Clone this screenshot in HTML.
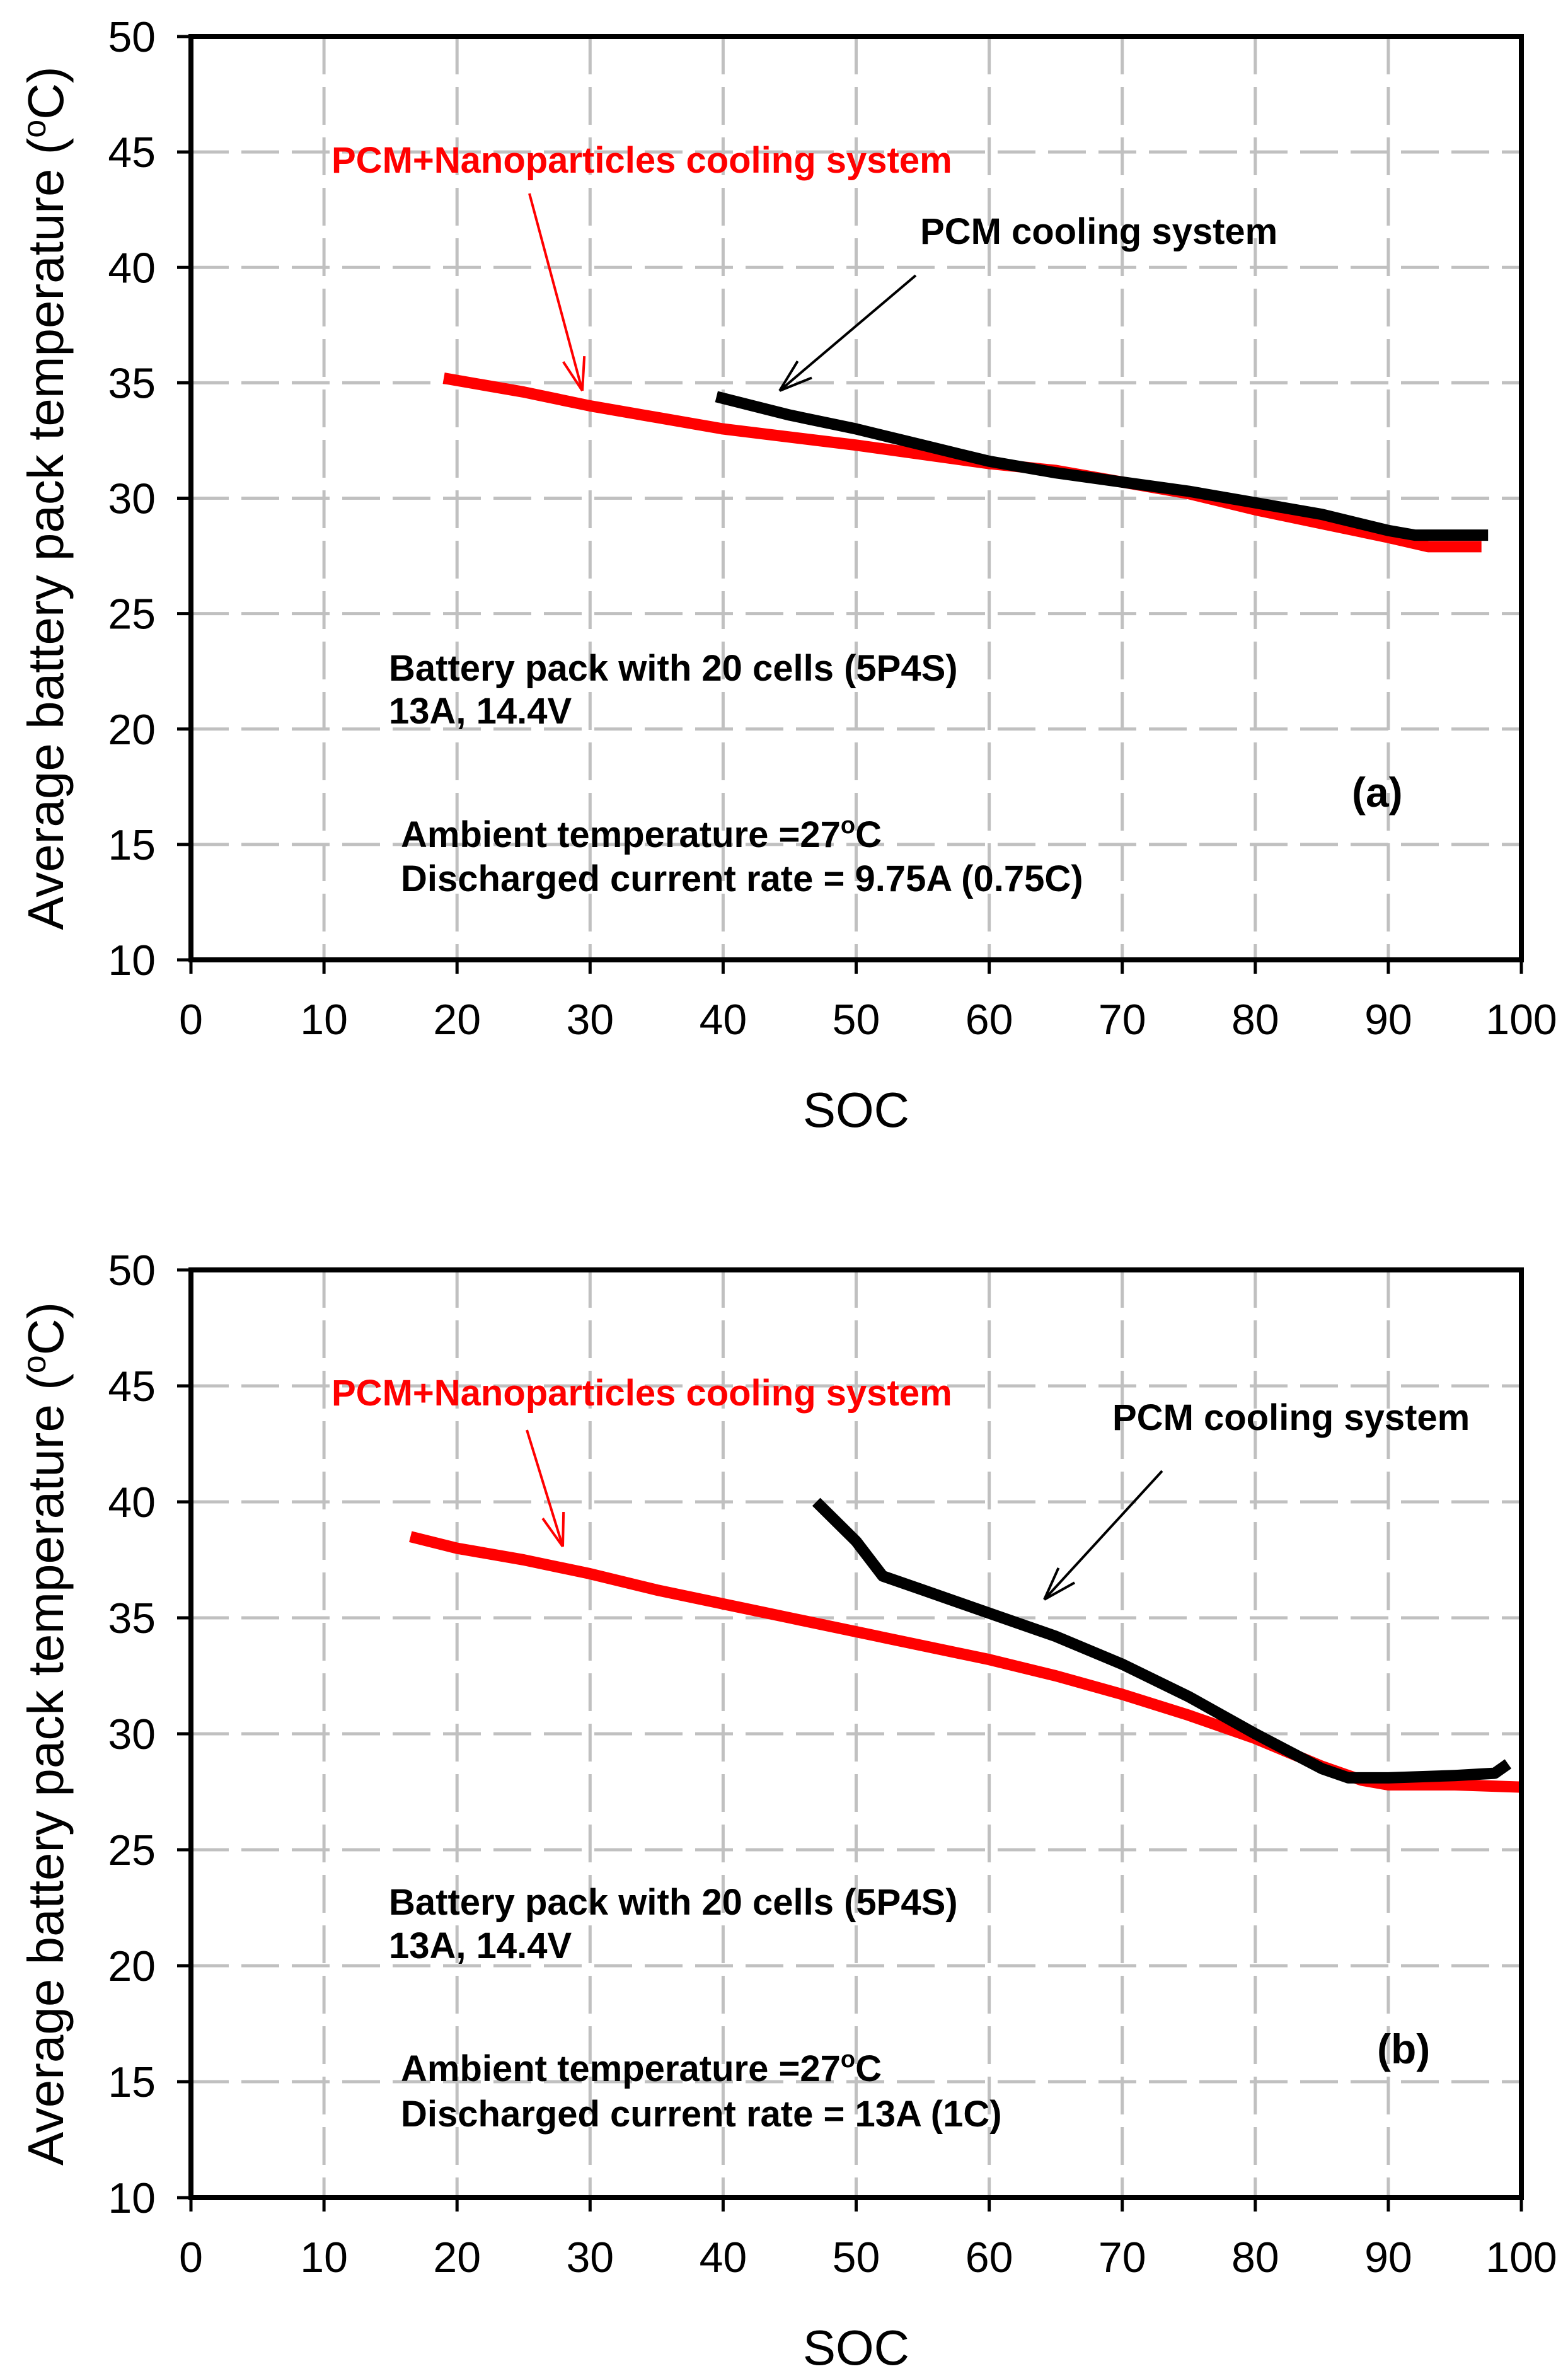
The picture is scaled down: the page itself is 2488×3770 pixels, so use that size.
<!DOCTYPE html>
<html><head><meta charset="utf-8"><style>
html,body{margin:0;padding:0;background:#fff}
svg{display:block}
text{font-family:"Liberation Sans",Arial,sans-serif}
.ann{font-weight:bold}
</style></head><body>
<svg id="fig" width="2488" height="3770" viewBox="0 0 2488 3770" xmlns="http://www.w3.org/2000/svg"></svg>
<script>
// ---- data ----
const xTicks = [0,10,20,30,40,50,60,70,80,90,100];
const yTicks = [10,15,20,25,30,35,40,45,50];
const aRedSoc  = [19,25,30,35,40,50,60,65,70,75,80,85,90,93,97];
const aRedTemp = [35.2,34.6,34.0,33.5,33.0,32.3,31.5,31.2,30.7,30.2,29.5,28.9,28.3,27.9,27.9];
const aBlkSoc  = [39.5,45,50,55,60,65,70,75,80,85,90,92,97.5];
const aBlkTemp = [34.4,33.6,33.0,32.3,31.6,31.1,30.7,30.3,29.8,29.3,28.6,28.4,28.4];
const bRedSoc  = [16.5,20,25,30,35,40,45,50,55,60,65,70,75,80,85,88,90,95,100];
const bRedTemp = [38.5,38.0,37.5,36.9,36.2,35.6,35.0,34.4,33.8,33.2,32.5,31.7,30.8,29.8,28.6,28.0,27.8,27.8,27.7];
const bBlkSoc  = [47,50,52,55,60,65,70,75,80,85,87,90,95,98,99];
const bBlkTemp = [40,38.3,36.8,36.2,35.2,34.2,33.0,31.6,30.0,28.5,28.1,28.1,28.2,28.3,28.7];

const NS="http://www.w3.org/2000/svg";
const svg=document.getElementById('fig');
function mk(tag,attrs,parent){const e=document.createElementNS(NS,tag);for(const k in attrs)e.setAttribute(k,attrs[k]);(parent||svg).appendChild(e);return e;}
function txt(s,attrs,parent){const e=mk('text',attrs,parent);e.textContent=s;return e;}

function panel(id,top,bottom,red,blk,ann){
  const L=303,R=2414;
  const g=mk('g',{});
  
  
  const xs=v=>L+(v/100)*(R-L);
  const ys=v=>bottom-(v-10)/40*(bottom-top);
  xTicks.forEach(t=>{ if(t>0&&t<100){const l=mk('line',{x1:xs(t),x2:xs(t),y1:top,y2:bottom,stroke:'#c0c0c0','stroke-width':5,'stroke-dasharray':'60,20'},g);
    
    }});
  yTicks.forEach(t=>{ if(t>10&&t<50){const l=mk('line',{x1:L,x2:R,y1:ys(t),y2:ys(t),stroke:'#c0c0c0','stroke-width':5,'stroke-dasharray':'60,20'},g);
    
    }});
  [[red,'#ff0000','red-series'],[blk,'#000','black-series']].forEach(([s,c,n])=>{
    const d=s[0].map((x,i)=>(i?'L':'M')+xs(x).toFixed(1)+','+ys(s[1][i]).toFixed(1)).join(' ');
    const p=mk('path',{d:d,fill:'none',stroke:c,'stroke-width':18,'stroke-linejoin':'round'},g);
    
    
  });
  const f=mk('rect',{x:L,y:top,width:R-L,height:bottom-top,fill:'none',stroke:'#000','stroke-width':8},g);
  
  
  xTicks.forEach(t=>{
    mk('line',{x1:xs(t),x2:xs(t),y1:bottom,y2:bottom+22,stroke:'#000','stroke-width':5},g);
    const e=txt(String(t),{x:xs(t),y:bottom+118,'font-size':68,'text-anchor':'middle'},g);
    
    
  });
  yTicks.forEach(t=>{
    mk('line',{x1:L-22,x2:L,y1:ys(t),y2:ys(t),stroke:'#000','stroke-width':5},g);
    const e=txt(String(t),{x:247,y:ys(t)+24,'font-size':68,'text-anchor':'end'},g);
    
    
  });
  const xt=txt('SOC',{x:(L+R)/2,y:bottom+265,'font-size':78,'text-anchor':'middle'},g);
  
  
  const cy=(top+bottom)/2;
  const yt=mk('text',{x:0,y:0,'font-size':80,'text-anchor':'middle',transform:`translate(100,${cy}) rotate(-90)`},g);
  
  
  yt.innerHTML='Average battery pack temperature (<tspan dy="-28" font-size="52">o</tspan><tspan dy="28">C)</tspan>';
  ann.forEach(a=>{
    if(a.t){const e=mk('text',{x:a.x,y:a.y,class:'ann',fill:a.c||'#000','font-size':a.fs||58},g);
      e.innerHTML=a.t;
      
      }
    else{
      const [x1,y1,x2,y2]=a.l,c=a.c||'#000';
      const ln=mk('g',{},g);
      
      
      mk('line',{x1,y1,x2,y2,stroke:c,'stroke-width':4},ln);
      const ang=Math.atan2(y2-y1,x2-x1),h=55,sp=0.32;
      [ang+Math.PI-sp,ang+Math.PI+sp].forEach(b=>mk('line',{x1:x2,y1:y2,x2:x2+h*Math.cos(b),y2:y2+h*Math.sin(b),stroke:c,'stroke-width':4},ln));
    }
  });
}
const deg='<tspan dy="-22" font-size="38">o</tspan><tspan dy="22">C</tspan>';
panel('a',58,1523,[aRedSoc,aRedTemp],[aBlkSoc,aBlkTemp],[
  {t:'PCM+Nanoparticles cooling system',x:526,y:274,c:'#ff0000',n:'red-series-label'},
  {l:[840,307,924,620],c:'#ff0000',n:'red-arrow'},
  {t:'PCM cooling system',x:1460,y:387,n:'black-series-label'},
  {l:[1453,437,1237,620],n:'black-arrow'},
  {t:'Battery pack with 20 cells (5P4S)',x:617,y:1080,n:'pack-note'},
  {t:'13A, 14.4V',x:617,y:1148,n:'rating-note'},
  {t:'(a)',x:2145,y:1280,fs:66,n:'panel-label'},
  {t:'Ambient temperature =27'+deg,x:636,y:1344,n:'ambient-note'},
  {t:'Discharged current rate = 9.75A (0.75C)',x:636,y:1414,n:'current-note'}
]);
panel('b',2015,3487,[bRedSoc,bRedTemp],[bBlkSoc,bBlkTemp],[
  {t:'PCM+Nanoparticles cooling system',x:526,y:2230,c:'#ff0000',n:'red-series-label'},
  {l:[836,2269,893,2454],c:'#ff0000',n:'red-arrow'},
  {t:'PCM cooling system',x:1765,y:2269,n:'black-series-label'},
  {l:[1844,2334,1657,2538],n:'black-arrow'},
  {t:'Battery pack with 20 cells (5P4S)',x:617,y:3038,n:'pack-note'},
  {t:'13A, 14.4V',x:617,y:3107,n:'rating-note'},
  {t:'(b)',x:2185,y:3274,fs:66,n:'panel-label'},
  {t:'Ambient temperature =27'+deg,x:636,y:3302,n:'ambient-note'},
  {t:'Discharged current rate = 13A (1C)',x:636,y:3374,n:'current-note'}
]);
</script>
</body></html>
